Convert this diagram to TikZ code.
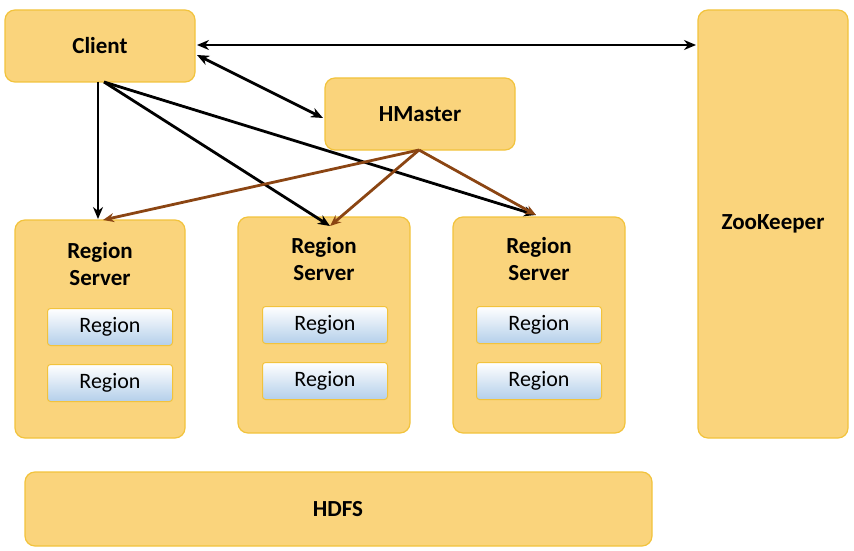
\documentclass[tikz,border=0pt]{standalone}
\usepackage{fontspec}
\setmainfont{Carlito}
\usetikzlibrary{arrows.meta}
\definecolor{box}{HTML}{FAD47C}
\definecolor{boxline}{HTML}{F2C33C}
\definecolor{brn}{HTML}{8B4513}
\definecolor{rb}{HTML}{B4CFEA}
\begin{document}
\begin{tikzpicture}[x=1pt,y=-1pt,
  b/.style={draw=boxline,line width=1.2pt,fill=box,rounded corners=10pt},
  t/.style={font=\fontsize{23}{27}\selectfont\bfseries,align=center},
  reg/.style={draw=boxline,line width=1pt,rounded corners=3pt,top color=white,bottom color=rb,minimum width=125pt,minimum height=37pt,font=\fontsize{22}{24}\selectfont},
  ar/.style={-{Stealth[length=12pt,width=10pt]},line width=2.8pt},
  br/.style={-{Stealth[length=11pt,width=9pt]},line width=2.8pt,draw=brn}]
\useasboundingbox (0,0) rectangle (854,551);
\draw[b] (5,10) rectangle (195,82); \node[t] (client) at (100,46) {Client};
\draw[b] (325,78) rectangle (515,150); \node[t] (hm) at (420,114) {HMaster};
\draw[b] (698,10) rectangle (848,438); \node[t] (zk) at (773,224) {ZooKeeper};
\draw[b] (15,220) rectangle (185,438); \node[t] (rs1) at (100,264) {Region\\Server};
\draw[b] (238,217) rectangle (410,433); \node[t] (rs2) at (324,259) {Region\\Server};
\draw[b] (453,217) rectangle (625,433); \node[t] (rs3) at (539,259) {Region\\Server};
\draw[b] (25,472) rectangle (652,546); \node[t] (hdfs) at (338,509) {HDFS};
\node[reg] (r11) at (110,327) {Region};
\node[reg] (r12) at (110,383) {Region};
\node[reg] (r21) at (325,325) {Region};
\node[reg] (r22) at (325,381) {Region};
\node[reg] (r31) at (539,325) {Region};
\node[reg] (r32) at (539,381) {Region};
\coordinate (cz1) at (197,45); \coordinate (cz2) at (696,45);
\draw[ar,{Stealth[length=12pt,width=10pt]}-{Stealth[length=12pt,width=10pt]}] (cz1) -- (cz2);
\coordinate (ch1) at (197,55); \coordinate (ch2) at (323,118);
\draw[ar,{Stealth[length=12pt,width=10pt]}-{Stealth[length=12pt,width=10pt]}] (ch1) -- (ch2);
\coordinate (cb) at (98,82); \coordinate (cb2) at (104,82);
\coordinate (t1) at (98,219); \coordinate (t2) at (330,226); \coordinate (t3) at (536,215);
\draw[ar] (cb) -- (t1);
\draw[ar] (cb2) -- (t2);
\draw[ar] (cb2) -- (t3);
\coordinate (hb) at (419,150);
\coordinate (u1) at (103,220);
\draw[br] (hb) -- (u1);
\draw[br] (hb) -- (t2);
\draw[br] (hb) -- (t3);
\end{tikzpicture}
\end{document}
